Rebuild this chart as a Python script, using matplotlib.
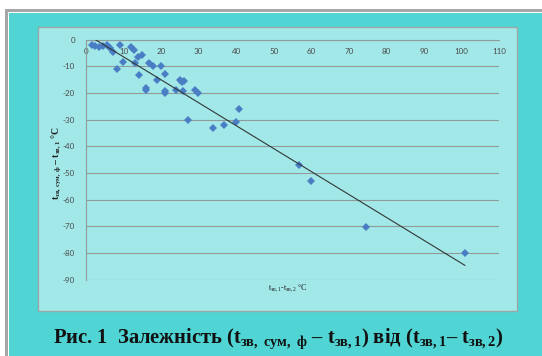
import numpy as np
import matplotlib
matplotlib.use("Agg")
import matplotlib.pyplot as plt
from matplotlib.patches import Rectangle

# ---- data ----
x_vals = [1.5, 2.4, 3.5, 4.6, 5.5, 6.4, 7.1, 9.1, 9.9, 8.2, 11.9, 12.8, 13.0, 13.9, 14.8,
          14.1, 16.0, 16.0, 16.9, 17.8, 18.8, 19.9, 21.0, 21.0, 21.0, 24.0, 25.0, 25.6,
          26.1, 25.9, 27.1, 29.0, 29.9, 33.9, 36.8, 39.9, 40.7, 56.8, 59.8, 74.7, 100.9]
y_vals = [-2.0, -2.4, -2.6, -2.2, -2.0, -3.2, -4.5, -2.0, -8.2, -11.1, -2.9, -3.9, -8.9,
          -6.4, -5.7, -13.2, -18.2, -19.0, -8.9, -9.9, -15.1, -9.9, -12.9, -19.2, -20.0,
          -18.9, -15.1, -16.0, -15.4, -19.1, -30.1, -18.9, -19.9, -33.2, -32.0, -30.7,
          -26.0, -46.9, -53.0, -70.2, -80.1]
x_ticks = [0, 10, 20, 30, 40, 50, 60, 70, 80, 90, 100, 110]
y_ticks = [0, -10, -20, -30, -40, -50, -60, -70, -80, -90]

plt.rcParams["mathtext.fontset"] = "custom"
plt.rcParams["mathtext.rm"] = "Liberation Serif"
plt.rcParams["mathtext.it"] = "Liberation Serif"
plt.rcParams["mathtext.bf"] = "Liberation Serif:bold"

W, H = 542, 356
fig = plt.figure(figsize=(W / 100, H / 100), dpi=100)
fig.patch.set_facecolor("white")

def prect(x0, y0, x1, y1, **kw):
    r = Rectangle((x0 / W, 1 - y1 / H), (x1 - x0) / W, (y1 - y0) / H,
                  transform=fig.transFigure, zorder=-10, **kw)
    fig.patches.append(r)

prect(5, 9, W + 5, H + 5, facecolor="#a6a6a6", edgecolor="none")
prect(7.5, 11.5, W + 5, H + 5, facecolor="white", edgecolor="none")
prect(9, 13.3, W + 5, H + 5, facecolor="#50d4d4", edgecolor="none")
prect(38, 27, 517, 311, facecolor="#a3e8e8", edgecolor="#9aa8a8", linewidth=1.0)

ax_l, ax_r, ax_t, ax_b = 86, 499, 39.7, 279.7
ax = fig.add_axes([ax_l / W, 1 - ax_b / H, (ax_r - ax_l) / W, (ax_b - ax_t) / H])
ax.set_zorder(5)
ax.set_facecolor("none")
ax.set_xlim(0, 110)
ax.set_ylim(-90, 0)

for s in ["top", "right"]:
    ax.spines[s].set_visible(False)
ax.spines["bottom"].set_position(("data", 0))
ax.spines["bottom"].set_color("#909c9c")
ax.spines["bottom"].set_linewidth(0.8)
ax.spines["left"].set_color("#909c9c")
ax.spines["left"].set_linewidth(0.8)

ax.set_yticks(y_ticks)
ax.set_xticks(x_ticks)
ax.set_yticklabels([str(v) for v in y_ticks])
ax.set_xticklabels([str(v) for v in x_ticks])
ax.tick_params(axis="both", length=0, labelsize=5.8, labelcolor="#4a4a4a")
ax.tick_params(axis="y", pad=8)
ax.tick_params(axis="x", pad=6)
for lab in ax.get_xticklabels() + ax.get_yticklabels():
    lab.set_family("Lato")

ax.yaxis.grid(True, color="#909c9c", linewidth=0.8)
ax.xaxis.grid(False)
ax.set_axisbelow(True)

ax.plot(x_vals, y_vals, linestyle="none", marker="D", markersize=4.4,
        color="#4a7ec4", markeredgewidth=0, clip_on=False, zorder=3)

coef = np.polyfit(x_vals, y_vals, 1)
xt = np.array([min(x_vals), max(x_vals)])
ax.plot(xt, np.polyval(coef, xt), color="#303838", linewidth=0.8, zorder=4)

fig.text(57 / W, 1 - 163 / H, r"t$_{\mathbf{зв,\,сум,\,ф}}$ – t$_{\mathbf{зв,1}}$ °С",
         rotation=90, ha="center", va="center", fontsize=7,
         family="Liberation Serif", weight="bold", color="#202020")
fig.text(288 / W, 1 - 288 / H, r"t$_{\mathrm{зв,1}}$-t$_{\mathrm{зв,2}}$ °С",
         ha="center", va="center", fontsize=5.8, family="Liberation Serif", color="#202020")

fig.text(278 / W, 1 - 339 / H,
         r"Рис. 1  Залежність (t$_{\mathbf{зв,\ сум,\ ф}}$ – t$_{\mathbf{зв,1}}$) від (t$_{\mathbf{зв,1}}$– t$_{\mathbf{зв,2}}$)",
         ha="center", va="center", fontsize=14.8, family="Liberation Serif",
         weight="bold", color="#111111")

fig.savefig("out.png", dpi=100)
